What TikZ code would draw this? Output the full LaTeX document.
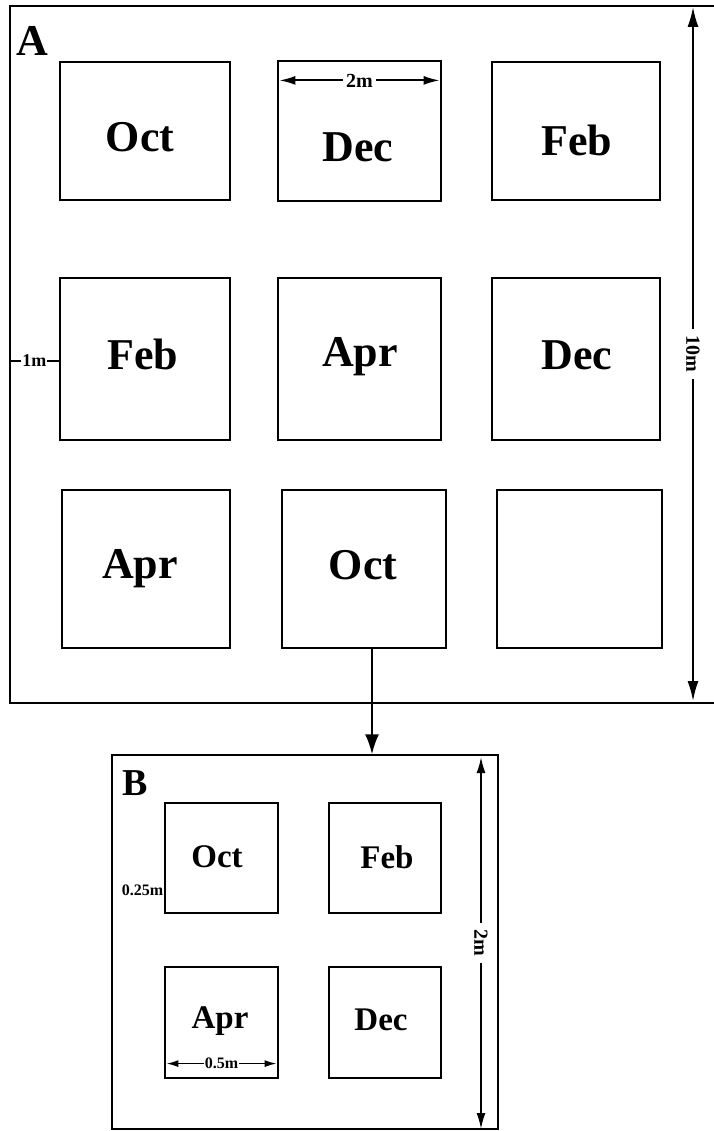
\documentclass[tikz,border=0pt]{standalone}
\usepackage{fontspec}
\setmainfont{Liberation Serif}
\usetikzlibrary{arrows.meta,calc}
\tikzset{
  frame/.style={draw, line width=1.3pt, inner sep=0pt},
  sq/.style={draw, line width=1.2pt, inner sep=0pt},
  big/.style={font=\fontsize{44}{44}\selectfont\bfseries, inner sep=0pt},
  mid/.style={font=\fontsize{33}{33}\selectfont\bfseries, inner sep=0pt},
  dim/.style={font=\fontsize{20}{20}\selectfont\bfseries, inner sep=3pt, fill=white},
  sdim/.style={font=\fontsize{16}{16}\selectfont\bfseries, inner sep=1pt, fill=white},
  darr/.style={line width=1.8pt, {Latex[length=16pt,width=9pt]}-{Latex[length=16pt,width=9pt]}},
  farr/.style={line width=2.2pt, -{Latex[length=20pt,width=14pt]}}
}
\begin{document}
\begin{tikzpicture}[x=1pt,y=-1pt]
\useasboundingbox (0,0) rectangle (713,1131);
% frame A (right edge off page)
\node[frame, minimum width=720pt, minimum height=697pt] (Af) at (370,354.5) {};
\node[font=\fontsize{44}{44}\selectfont\bfseries, inner sep=0pt] (Alab) at (32,41) {A};
% A squares
\node[sq, minimum width=170pt, minimum height=138pt] (a1) at (145,131) {};
\node[sq, minimum width=163pt, minimum height=140pt] (a2) at (359.5,131) {};
\node[sq, minimum width=168pt, minimum height=138pt] (a3) at (576,131) {};
\node[sq, minimum width=170pt, minimum height=162pt] (a4) at (145,359) {};
\node[sq, minimum width=163pt, minimum height=162pt] (a5) at (359.5,359) {};
\node[sq, minimum width=168pt, minimum height=162pt] (a6) at (576,359) {};
\node[sq, minimum width=168pt, minimum height=158pt] (a7) at (146,569) {};
\node[sq, minimum width=164pt, minimum height=158pt] (a8) at (364,569) {};
\node[sq, minimum width=165pt, minimum height=158pt] (a9) at (579.5,569) {};
% labels A
\node[big] (t1) at (140,137) {Oct};
\node[big] (t2) at (358,147) {Dec};
\node[big] (t3) at (577,140) {Feb};
\node[big] (t4) at (143,354) {Feb};
\node[big] (t5) at (360,357) {Apr};
\node[big] (t6) at (577,355) {Dec};
\node[big] (t7) at (140,569) {Apr};
\node[big] (t8) at (363,565) {Oct};
% 2m dimension in a2
\coordinate (d2l) at ($(a2.north west)+(2,20)$);
\coordinate (d2r) at ($(a2.north east)+(-2,20)$);
\draw[darr] (d2l) -- node[dim] (l2m) {2m} (d2r);
% 1m tick
\coordinate (m1l) at (Af.west |- 0,361);
\coordinate (m1r) at (a4.west |- 0,361);
\draw[line width=1.2pt] (m1l) -- node[dim, font=\fontsize{18}{18}\selectfont\bfseries, inner sep=1pt] (l1m) {1m} (m1r);
% 10m vertical
\coordinate (v10t) at (693,7);
\coordinate (v10b) at (693,701);
\draw[darr, {Latex[length=20pt,width=11pt]}-{Latex[length=20pt,width=11pt]}] (v10t) -- node[dim, rotate=-90, inner sep=7pt] (l10m) {10m} (v10b);
% frame B
\node[frame, minimum width=386pt, minimum height=374pt] (Bf) at (305,942) {};
\node[font=\fontsize{38}{38}\selectfont\bfseries, inner sep=0pt] (Blab) at (135,783) {B};
% connector
\draw[farr] ([xshift=8pt]a8.south) -- ([xshift=8pt]a8.south |- Bf.north);
% B squares
\node[sq, minimum width=113pt, minimum height=110pt] (b1) at (221.5,858) {};
\node[sq, minimum width=112pt, minimum height=110pt] (b2) at (385,858) {};
\node[sq, minimum width=113pt, minimum height=111pt] (b3) at (221.5,1022.5) {};
\node[sq, minimum width=112pt, minimum height=111pt] (b4) at (385,1022.5) {};
\node[mid] (u1) at (217,857) {Oct};
\node[mid] (u2) at (387,857) {Feb};
\node[mid] (u3) at (220,1021) {Apr};
\node[mid] (u4) at (381,1020) {Dec};
% 0.25m
\node[sdim, anchor=east, inner sep=0pt] (l025) at ($(b1.west)+(-1,32)$) {0.25m};
% 0.5m
\coordinate (h5l) at ($(b3.south west)+(2,-15)$);
\coordinate (h5r) at ($(b3.south east)+(-2,-15)$);
\draw[darr, line width=1.6pt, {Latex[length=12pt,width=7pt]}-{Latex[length=12pt,width=7pt]}] (h5l) -- node[sdim] (l05m) {0.5m} (h5r);
% 2m vertical in B
\coordinate (v2t) at (481,757);
\coordinate (v2b) at (481,1129);
\draw[darr, {Latex[length=16pt,width=9pt]}-{Latex[length=16pt,width=9pt]}] (v2t) -- node[dim, rotate=-90, inner sep=7pt] (lb2m) {2m} (v2b);
\end{tikzpicture}
\end{document}
